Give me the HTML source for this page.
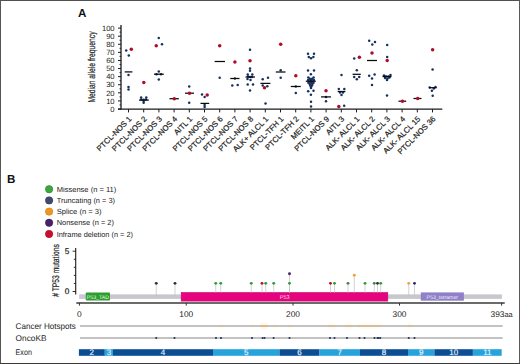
<!DOCTYPE html>
<html><head><meta charset="utf-8"><style>
html,body{margin:0;padding:0;background:#fff;}
svg{display:block;}
text{font-family:"Liberation Sans", sans-serif;text-rendering:geometricPrecision;}
.k{stroke:#222;stroke-width:0.2px;}
</style></head><body>
<svg width="520" height="364" viewBox="0 0 520 364" font-family='"Liberation Sans", sans-serif'>
<rect width="520" height="364" fill="#fff"/>
<text x="78.1" y="17.1" font-size="11.6" font-weight="bold" fill="#111">A</text>
<line x1="121" y1="25" x2="121" y2="109.6" stroke="#1a1a1a" stroke-width="1.3"/>
<line x1="118" y1="109.00" x2="121" y2="109.00" stroke="#1a1a1a" stroke-width="1"/>
<text x="114.6" y="111.70" font-size="7.6" text-anchor="end" fill="#222">0</text>
<line x1="118" y1="100.91" x2="121" y2="100.91" stroke="#1a1a1a" stroke-width="1"/>
<text x="114.6" y="103.61" font-size="7.6" text-anchor="end" fill="#222">10</text>
<line x1="118" y1="92.82" x2="121" y2="92.82" stroke="#1a1a1a" stroke-width="1"/>
<text x="114.6" y="95.52" font-size="7.6" text-anchor="end" fill="#222">20</text>
<line x1="118" y1="84.73" x2="121" y2="84.73" stroke="#1a1a1a" stroke-width="1"/>
<text x="114.6" y="87.43" font-size="7.6" text-anchor="end" fill="#222">30</text>
<line x1="118" y1="76.64" x2="121" y2="76.64" stroke="#1a1a1a" stroke-width="1"/>
<text x="114.6" y="79.34" font-size="7.6" text-anchor="end" fill="#222">40</text>
<line x1="118" y1="68.55" x2="121" y2="68.55" stroke="#1a1a1a" stroke-width="1"/>
<text x="114.6" y="71.25" font-size="7.6" text-anchor="end" fill="#222">50</text>
<line x1="118" y1="60.46" x2="121" y2="60.46" stroke="#1a1a1a" stroke-width="1"/>
<text x="114.6" y="63.16" font-size="7.6" text-anchor="end" fill="#222">60</text>
<line x1="118" y1="52.37" x2="121" y2="52.37" stroke="#1a1a1a" stroke-width="1"/>
<text x="114.6" y="55.07" font-size="7.6" text-anchor="end" fill="#222">70</text>
<line x1="118" y1="44.28" x2="121" y2="44.28" stroke="#1a1a1a" stroke-width="1"/>
<text x="114.6" y="46.98" font-size="7.6" text-anchor="end" fill="#222">80</text>
<line x1="118" y1="36.19" x2="121" y2="36.19" stroke="#1a1a1a" stroke-width="1"/>
<text x="114.6" y="38.89" font-size="7.6" text-anchor="end" fill="#222">90</text>
<line x1="118" y1="28.10" x2="121" y2="28.10" stroke="#1a1a1a" stroke-width="1"/>
<text x="114.6" y="30.80" font-size="7.6" text-anchor="end" fill="#222">100</text>
<line x1="119.5" y1="104.95" x2="121" y2="104.95" stroke="#1a1a1a" stroke-width="0.9"/>
<line x1="119.5" y1="96.86" x2="121" y2="96.86" stroke="#1a1a1a" stroke-width="0.9"/>
<line x1="119.5" y1="88.78" x2="121" y2="88.78" stroke="#1a1a1a" stroke-width="0.9"/>
<line x1="119.5" y1="80.69" x2="121" y2="80.69" stroke="#1a1a1a" stroke-width="0.9"/>
<line x1="119.5" y1="72.59" x2="121" y2="72.59" stroke="#1a1a1a" stroke-width="0.9"/>
<line x1="119.5" y1="64.50" x2="121" y2="64.50" stroke="#1a1a1a" stroke-width="0.9"/>
<line x1="119.5" y1="56.41" x2="121" y2="56.41" stroke="#1a1a1a" stroke-width="0.9"/>
<line x1="119.5" y1="48.32" x2="121" y2="48.32" stroke="#1a1a1a" stroke-width="0.9"/>
<line x1="119.5" y1="40.23" x2="121" y2="40.23" stroke="#1a1a1a" stroke-width="0.9"/>
<line x1="119.5" y1="32.14" x2="121" y2="32.14" stroke="#1a1a1a" stroke-width="0.9"/>
<text transform="translate(95.1 67.05) rotate(-90)" font-size="9.9" text-anchor="middle" textLength="71.1" lengthAdjust="spacingAndGlyphs" fill="#222" class="k">Median allele frequency</text>
<line x1="118" y1="109.2" x2="442.3" y2="109.2" stroke="#1a1a1a" stroke-width="1.3"/>
<line x1="128.50" y1="109.2" x2="128.50" y2="112.4" stroke="#1a1a1a" stroke-width="1"/>
<text transform="translate(132.10 119.5) rotate(-45)" font-size="7.75" text-anchor="end" fill="#222" class="k">PTCL-NOS 1</text>
<line x1="143.70" y1="109.2" x2="143.70" y2="112.4" stroke="#1a1a1a" stroke-width="1"/>
<text transform="translate(147.30 119.5) rotate(-45)" font-size="7.75" text-anchor="end" fill="#222" class="k">PTCL-NOS 2</text>
<line x1="158.90" y1="109.2" x2="158.90" y2="112.4" stroke="#1a1a1a" stroke-width="1"/>
<text transform="translate(162.50 119.5) rotate(-45)" font-size="7.75" text-anchor="end" fill="#222" class="k">PTCL-NOS 3</text>
<line x1="174.10" y1="109.2" x2="174.10" y2="112.4" stroke="#1a1a1a" stroke-width="1"/>
<text transform="translate(177.70 119.5) rotate(-45)" font-size="7.75" text-anchor="end" fill="#222" class="k">PTCL-NOS 4</text>
<line x1="189.30" y1="109.2" x2="189.30" y2="112.4" stroke="#1a1a1a" stroke-width="1"/>
<text transform="translate(192.90 119.5) rotate(-45)" font-size="7.75" text-anchor="end" fill="#222" class="k">AITL 1</text>
<line x1="204.50" y1="109.2" x2="204.50" y2="112.4" stroke="#1a1a1a" stroke-width="1"/>
<text transform="translate(208.10 119.5) rotate(-45)" font-size="7.75" text-anchor="end" fill="#222" class="k">PTCL-NOS 5</text>
<line x1="219.70" y1="109.2" x2="219.70" y2="112.4" stroke="#1a1a1a" stroke-width="1"/>
<text transform="translate(223.30 119.5) rotate(-45)" font-size="7.75" text-anchor="end" fill="#222" class="k">PTCL-NOS 6</text>
<line x1="234.90" y1="109.2" x2="234.90" y2="112.4" stroke="#1a1a1a" stroke-width="1"/>
<text transform="translate(238.50 119.5) rotate(-45)" font-size="7.75" text-anchor="end" fill="#222" class="k">PTCL-NOS 7</text>
<line x1="250.10" y1="109.2" x2="250.10" y2="112.4" stroke="#1a1a1a" stroke-width="1"/>
<text transform="translate(253.70 119.5) rotate(-45)" font-size="7.75" text-anchor="end" fill="#222" class="k">PTCL-NOS 8</text>
<line x1="265.30" y1="109.2" x2="265.30" y2="112.4" stroke="#1a1a1a" stroke-width="1"/>
<text transform="translate(268.90 119.5) rotate(-45)" font-size="7.75" text-anchor="end" fill="#222" class="k">ALK+ ALCL 1</text>
<line x1="280.50" y1="109.2" x2="280.50" y2="112.4" stroke="#1a1a1a" stroke-width="1"/>
<text transform="translate(284.10 119.5) rotate(-45)" font-size="7.75" text-anchor="end" fill="#222" class="k">PTCL-TFH 1</text>
<line x1="295.70" y1="109.2" x2="295.70" y2="112.4" stroke="#1a1a1a" stroke-width="1"/>
<text transform="translate(299.30 119.5) rotate(-45)" font-size="7.75" text-anchor="end" fill="#222" class="k">PTCL-TFH 2</text>
<line x1="310.90" y1="109.2" x2="310.90" y2="112.4" stroke="#1a1a1a" stroke-width="1"/>
<text transform="translate(314.50 119.5) rotate(-45)" font-size="7.75" text-anchor="end" fill="#222" class="k">MEITL 1</text>
<line x1="326.10" y1="109.2" x2="326.10" y2="112.4" stroke="#1a1a1a" stroke-width="1"/>
<text transform="translate(329.70 119.5) rotate(-45)" font-size="7.75" text-anchor="end" fill="#222" class="k">PTCL-NOS 9</text>
<line x1="341.30" y1="109.2" x2="341.30" y2="112.4" stroke="#1a1a1a" stroke-width="1"/>
<text transform="translate(344.90 119.5) rotate(-45)" font-size="7.75" text-anchor="end" fill="#222" class="k">AITL 3</text>
<line x1="356.50" y1="109.2" x2="356.50" y2="112.4" stroke="#1a1a1a" stroke-width="1"/>
<text transform="translate(360.10 119.5) rotate(-45)" font-size="7.75" text-anchor="end" fill="#222" class="k">ALK- ALCL 1</text>
<line x1="371.70" y1="109.2" x2="371.70" y2="112.4" stroke="#1a1a1a" stroke-width="1"/>
<text transform="translate(375.30 119.5) rotate(-45)" font-size="7.75" text-anchor="end" fill="#222" class="k">ALK- ALCL 2</text>
<line x1="386.90" y1="109.2" x2="386.90" y2="112.4" stroke="#1a1a1a" stroke-width="1"/>
<text transform="translate(390.50 119.5) rotate(-45)" font-size="7.75" text-anchor="end" fill="#222" class="k">ALK- ALCL 3</text>
<line x1="402.10" y1="109.2" x2="402.10" y2="112.4" stroke="#1a1a1a" stroke-width="1"/>
<text transform="translate(405.70 119.5) rotate(-45)" font-size="7.75" text-anchor="end" fill="#222" class="k">ALK- ALCL 4</text>
<line x1="417.30" y1="109.2" x2="417.30" y2="112.4" stroke="#1a1a1a" stroke-width="1"/>
<text transform="translate(420.90 119.5) rotate(-45)" font-size="7.75" text-anchor="end" fill="#222" class="k">ALK- ALCL 15</text>
<line x1="432.50" y1="109.2" x2="432.50" y2="112.4" stroke="#1a1a1a" stroke-width="1"/>
<text transform="translate(436.10 119.5) rotate(-45)" font-size="7.75" text-anchor="end" fill="#222" class="k">PTCL-NOS 36</text>
<circle cx="126.2" cy="50.6" r="1.25" fill="#163060"/>
<circle cx="128.8" cy="55.6" r="1.25" fill="#163060"/>
<circle cx="128.5" cy="75" r="1.25" fill="#163060"/>
<circle cx="128.5" cy="87" r="1.25" fill="#163060"/>
<circle cx="128.5" cy="89.6" r="1.25" fill="#163060"/>
<circle cx="141.1" cy="97.5" r="1.25" fill="#163060"/>
<circle cx="146.25" cy="97.5" r="1.25" fill="#163060"/>
<circle cx="141.3" cy="99.5" r="1.25" fill="#163060"/>
<circle cx="146" cy="99.5" r="1.25" fill="#163060"/>
<circle cx="143.65" cy="101" r="1.25" fill="#163060"/>
<circle cx="143.65" cy="102.7" r="1.25" fill="#163060"/>
<circle cx="143.6" cy="99.8" r="1.25" fill="#163060"/>
<circle cx="158.75" cy="38" r="1.25" fill="#163060"/>
<circle cx="162" cy="44.25" r="1.25" fill="#163060"/>
<circle cx="158.8" cy="71.6" r="1.25" fill="#163060"/>
<circle cx="156.5" cy="74.2" r="1.25" fill="#163060"/>
<circle cx="161" cy="74.2" r="1.25" fill="#163060"/>
<circle cx="158.8" cy="79.6" r="1.25" fill="#163060"/>
<circle cx="189.2" cy="86.5" r="1.25" fill="#163060"/>
<circle cx="189.2" cy="102.7" r="1.25" fill="#163060"/>
<circle cx="202" cy="94.6" r="1.25" fill="#163060"/>
<circle cx="204.6" cy="96.9" r="1.25" fill="#163060"/>
<circle cx="204.6" cy="105" r="1.25" fill="#163060"/>
<circle cx="204.6" cy="107" r="1.25" fill="#163060"/>
<circle cx="219.7" cy="77.7" r="1.25" fill="#163060"/>
<circle cx="234.9" cy="78.5" r="1.25" fill="#163060"/>
<circle cx="232.3" cy="85.4" r="1.25" fill="#163060"/>
<circle cx="237.7" cy="84.9" r="1.25" fill="#163060"/>
<circle cx="250" cy="49.7" r="1.25" fill="#163060"/>
<circle cx="250" cy="68.5" r="1.25" fill="#163060"/>
<circle cx="250" cy="70.8" r="1.25" fill="#163060"/>
<circle cx="247.7" cy="74.6" r="1.25" fill="#163060"/>
<circle cx="252.3" cy="74.6" r="1.25" fill="#163060"/>
<circle cx="248" cy="76.5" r="1.25" fill="#163060"/>
<circle cx="250" cy="77" r="1.25" fill="#163060"/>
<circle cx="252" cy="77" r="1.25" fill="#163060"/>
<circle cx="247.5" cy="79" r="1.25" fill="#163060"/>
<circle cx="250.5" cy="80" r="1.25" fill="#163060"/>
<circle cx="247.7" cy="84.6" r="1.25" fill="#163060"/>
<circle cx="253" cy="84.6" r="1.25" fill="#163060"/>
<circle cx="250" cy="90.5" r="1.25" fill="#163060"/>
<circle cx="262.7" cy="79.2" r="1.25" fill="#163060"/>
<circle cx="268" cy="77.7" r="1.25" fill="#163060"/>
<circle cx="262.7" cy="85.4" r="1.25" fill="#163060"/>
<circle cx="267.3" cy="86.2" r="1.25" fill="#163060"/>
<circle cx="265.5" cy="103.5" r="1.25" fill="#163060"/>
<circle cx="280.7" cy="70.3" r="1.25" fill="#163060"/>
<circle cx="280.7" cy="77.7" r="1.25" fill="#163060"/>
<circle cx="295.8" cy="86.5" r="1.25" fill="#163060"/>
<circle cx="295.8" cy="93.1" r="1.25" fill="#163060"/>
<circle cx="308" cy="53.8" r="1.25" fill="#163060"/>
<circle cx="314" cy="53.8" r="1.25" fill="#163060"/>
<circle cx="308.8" cy="56.9" r="1.25" fill="#163060"/>
<circle cx="311" cy="58.3" r="1.25" fill="#163060"/>
<circle cx="313.4" cy="56.9" r="1.25" fill="#163060"/>
<circle cx="308" cy="70.5" r="1.25" fill="#163060"/>
<circle cx="314" cy="70.5" r="1.25" fill="#163060"/>
<circle cx="310.9" cy="74.3" r="1.25" fill="#163060"/>
<circle cx="308.3" cy="77.6" r="1.25" fill="#163060"/>
<circle cx="313.6" cy="77.6" r="1.25" fill="#163060"/>
<circle cx="309.8" cy="78.8" r="1.25" fill="#163060"/>
<circle cx="312.2" cy="78.8" r="1.25" fill="#163060"/>
<circle cx="308.2" cy="80.1" r="1.25" fill="#163060"/>
<circle cx="311" cy="80.1" r="1.25" fill="#163060"/>
<circle cx="313.8" cy="80.1" r="1.25" fill="#163060"/>
<circle cx="309.6" cy="81.4" r="1.25" fill="#163060"/>
<circle cx="312.4" cy="81.4" r="1.25" fill="#163060"/>
<circle cx="308.4" cy="82.7" r="1.25" fill="#163060"/>
<circle cx="311" cy="82.7" r="1.25" fill="#163060"/>
<circle cx="313.5" cy="82.7" r="1.25" fill="#163060"/>
<circle cx="309.7" cy="84.1" r="1.25" fill="#163060"/>
<circle cx="312.3" cy="84.1" r="1.25" fill="#163060"/>
<circle cx="310.2" cy="85.5" r="1.25" fill="#163060"/>
<circle cx="312" cy="85.5" r="1.25" fill="#163060"/>
<circle cx="311" cy="86.9" r="1.25" fill="#163060"/>
<circle cx="311" cy="88.1" r="1.25" fill="#163060"/>
<circle cx="308.2" cy="91.2" r="1.25" fill="#163060"/>
<circle cx="313.5" cy="90.8" r="1.25" fill="#163060"/>
<circle cx="310.9" cy="94.7" r="1.25" fill="#163060"/>
<circle cx="311" cy="101.8" r="1.25" fill="#163060"/>
<circle cx="311" cy="106.5" r="1.25" fill="#163060"/>
<circle cx="326" cy="96.9" r="1.25" fill="#163060"/>
<circle cx="326" cy="101.2" r="1.25" fill="#163060"/>
<circle cx="341.5" cy="74.9" r="1.25" fill="#163060"/>
<circle cx="338.8" cy="88.9" r="1.25" fill="#163060"/>
<circle cx="344.3" cy="88.9" r="1.25" fill="#163060"/>
<circle cx="340" cy="92.6" r="1.25" fill="#163060"/>
<circle cx="343" cy="92.6" r="1.25" fill="#163060"/>
<circle cx="341.5" cy="95.1" r="1.25" fill="#163060"/>
<circle cx="344.2" cy="105.8" r="1.25" fill="#163060"/>
<circle cx="354.2" cy="58.6" r="1.25" fill="#163060"/>
<circle cx="356.8" cy="70.3" r="1.25" fill="#163060"/>
<circle cx="354.2" cy="77" r="1.25" fill="#163060"/>
<circle cx="359.2" cy="77" r="1.25" fill="#163060"/>
<circle cx="356.8" cy="79.2" r="1.25" fill="#163060"/>
<circle cx="369.2" cy="40.8" r="1.25" fill="#163060"/>
<circle cx="375" cy="42" r="1.25" fill="#163060"/>
<circle cx="372.3" cy="44.6" r="1.25" fill="#163060"/>
<circle cx="369.2" cy="75.7" r="1.25" fill="#163060"/>
<circle cx="374.6" cy="74.6" r="1.25" fill="#163060"/>
<circle cx="372" cy="78.5" r="1.25" fill="#163060"/>
<circle cx="372" cy="84.9" r="1.25" fill="#163060"/>
<circle cx="387.2" cy="45" r="1.25" fill="#163060"/>
<circle cx="387.2" cy="57" r="1.25" fill="#163060"/>
<circle cx="384" cy="75.5" r="1.25" fill="#163060"/>
<circle cx="386" cy="76.5" r="1.25" fill="#163060"/>
<circle cx="388.5" cy="76.5" r="1.25" fill="#163060"/>
<circle cx="390.5" cy="75" r="1.25" fill="#163060"/>
<circle cx="385" cy="78" r="1.25" fill="#163060"/>
<circle cx="387.5" cy="78.5" r="1.25" fill="#163060"/>
<circle cx="389.5" cy="77.5" r="1.25" fill="#163060"/>
<circle cx="387" cy="80" r="1.25" fill="#163060"/>
<circle cx="387" cy="95.4" r="1.25" fill="#163060"/>
<circle cx="432.6" cy="69.5" r="1.25" fill="#163060"/>
<circle cx="429.7" cy="87.4" r="1.25" fill="#163060"/>
<circle cx="435.5" cy="87.1" r="1.25" fill="#163060"/>
<circle cx="433.8" cy="88.4" r="1.25" fill="#163060"/>
<circle cx="431.9" cy="90.7" r="1.25" fill="#163060"/>
<circle cx="432.7" cy="95.7" r="1.25" fill="#163060"/>
<line x1="124.7" y1="71.9" x2="132.4" y2="71.9" stroke="#0a0a0a" stroke-width="1.25"/>
<line x1="139.0" y1="100.1" x2="148.8" y2="100.1" stroke="#0a0a0a" stroke-width="1.25"/>
<line x1="154" y1="74.2" x2="163.8" y2="74.2" stroke="#0a0a0a" stroke-width="1.25"/>
<line x1="169.5" y1="98.7" x2="178.8" y2="98.7" stroke="#0a0a0a" stroke-width="1.25"/>
<line x1="185" y1="93.2" x2="194" y2="93.2" stroke="#0a0a0a" stroke-width="1.25"/>
<line x1="200.5" y1="103.4" x2="209.2" y2="103.4" stroke="#0a0a0a" stroke-width="1.25"/>
<line x1="214.6" y1="61.5" x2="225" y2="61.5" stroke="#0a0a0a" stroke-width="1.25"/>
<line x1="230.3" y1="78.5" x2="239.5" y2="78.5" stroke="#0a0a0a" stroke-width="1.25"/>
<line x1="245.5" y1="77" x2="255" y2="77" stroke="#0a0a0a" stroke-width="1.25"/>
<line x1="260.4" y1="83.4" x2="270.4" y2="83.4" stroke="#0a0a0a" stroke-width="1.25"/>
<line x1="275.8" y1="72" x2="285.5" y2="72" stroke="#0a0a0a" stroke-width="1.25"/>
<line x1="290.8" y1="86.5" x2="300.8" y2="86.5" stroke="#0a0a0a" stroke-width="1.25"/>
<line x1="305.8" y1="81.2" x2="315.8" y2="81.2" stroke="#0a0a0a" stroke-width="1.25"/>
<line x1="321" y1="96.9" x2="331" y2="96.9" stroke="#0a0a0a" stroke-width="1.25"/>
<line x1="337.7" y1="91.5" x2="345.4" y2="91.5" stroke="#0a0a0a" stroke-width="1.25"/>
<line x1="352.6" y1="74.3" x2="360.8" y2="74.3" stroke="#0a0a0a" stroke-width="1.25"/>
<line x1="367" y1="60.5" x2="377" y2="60.5" stroke="#0a0a0a" stroke-width="1.25"/>
<line x1="382.5" y1="76.5" x2="391.5" y2="76.5" stroke="#0a0a0a" stroke-width="1.25"/>
<line x1="398.5" y1="101.2" x2="406.2" y2="101.2" stroke="#0a0a0a" stroke-width="1.25"/>
<line x1="413.5" y1="98.5" x2="421.5" y2="98.5" stroke="#0a0a0a" stroke-width="1.25"/>
<line x1="429" y1="87.7" x2="436.6" y2="87.7" stroke="#0a0a0a" stroke-width="1.25"/>
<circle cx="131.3" cy="49.3" r="1.75" fill="#ac0d2b"/>
<circle cx="143.8" cy="82.4" r="1.75" fill="#ac0d2b"/>
<circle cx="156.25" cy="45.75" r="1.75" fill="#ac0d2b"/>
<circle cx="174.3" cy="98.7" r="1.75" fill="#ac0d2b"/>
<circle cx="189.5" cy="93.2" r="1.75" fill="#ac0d2b"/>
<circle cx="207.2" cy="95.1" r="1.75" fill="#ac0d2b"/>
<circle cx="219.7" cy="45.7" r="1.75" fill="#ac0d2b"/>
<circle cx="234.9" cy="62" r="1.75" fill="#ac0d2b"/>
<circle cx="250" cy="60.8" r="1.75" fill="#ac0d2b"/>
<circle cx="264.5" cy="87.7" r="1.75" fill="#ac0d2b"/>
<circle cx="280.7" cy="44.2" r="1.75" fill="#ac0d2b"/>
<circle cx="295.8" cy="75.8" r="1.75" fill="#ac0d2b"/>
<circle cx="326" cy="90.8" r="1.75" fill="#ac0d2b"/>
<circle cx="338.8" cy="106.6" r="1.75" fill="#ac0d2b"/>
<circle cx="359.4" cy="57.2" r="1.75" fill="#ac0d2b"/>
<circle cx="372" cy="53" r="1.75" fill="#ac0d2b"/>
<circle cx="387.2" cy="60.5" r="1.75" fill="#ac0d2b"/>
<circle cx="402.5" cy="101.2" r="1.75" fill="#ac0d2b"/>
<circle cx="417.7" cy="98.5" r="1.75" fill="#ac0d2b"/>
<circle cx="432.6" cy="49.7" r="1.75" fill="#ac0d2b"/>
<text x="7" y="183.2" font-size="11.6" font-weight="bold" fill="#111">B</text>
<circle cx="49.1" cy="189.20" r="3.7" fill="#3aa63c" stroke="#3aa63c" stroke-width="0.6" stroke-opacity="0.9" style="filter:brightness(0.85)"/>
<circle cx="49.1" cy="189.20" r="3.3" fill="#3aa63c"/>
<text x="56.7" y="191.80" font-size="7.4" textLength="59.6" lengthAdjust="spacingAndGlyphs" fill="#222">Missense (n = 11)</text>
<circle cx="49.1" cy="200.40" r="3.7" fill="#3e4a6e" stroke="#3e4a6e" stroke-width="0.6" stroke-opacity="0.9" style="filter:brightness(0.85)"/>
<circle cx="49.1" cy="200.40" r="3.3" fill="#3e4a6e"/>
<text x="56.7" y="203.00" font-size="7.4" textLength="58.3" lengthAdjust="spacingAndGlyphs" fill="#222">Truncating (n = 3)</text>
<circle cx="49.1" cy="211.60" r="3.7" fill="#f0961e" stroke="#f0961e" stroke-width="0.6" stroke-opacity="0.9" style="filter:brightness(0.85)"/>
<circle cx="49.1" cy="211.60" r="3.3" fill="#f0961e"/>
<text x="56.7" y="214.20" font-size="7.4" textLength="44.8" lengthAdjust="spacingAndGlyphs" fill="#222">Splice (n = 3)</text>
<circle cx="49.1" cy="222.80" r="3.7" fill="#4a1f6c" stroke="#4a1f6c" stroke-width="0.6" stroke-opacity="0.9" style="filter:brightness(0.85)"/>
<circle cx="49.1" cy="222.80" r="3.3" fill="#4a1f6c"/>
<text x="56.7" y="225.40" font-size="7.4" textLength="57.3" lengthAdjust="spacingAndGlyphs" fill="#222">Nonsense (n = 2)</text>
<circle cx="49.1" cy="234.00" r="3.7" fill="#c8102e" stroke="#c8102e" stroke-width="0.6" stroke-opacity="0.9" style="filter:brightness(0.85)"/>
<circle cx="49.1" cy="234.00" r="3.3" fill="#c8102e"/>
<text x="56.7" y="236.60" font-size="7.4" textLength="76.3" lengthAdjust="spacingAndGlyphs" fill="#222">Inframe deletion (n = 2)</text>
<line x1="75.7" y1="248" x2="75.7" y2="294.6" stroke="#1a1a1a" stroke-width="1.1"/>
<line x1="72.6" y1="291.50" x2="75.7" y2="291.50" stroke="#1a1a1a" stroke-width="0.9"/>
<line x1="73.8" y1="283.44" x2="75.7" y2="283.44" stroke="#1a1a1a" stroke-width="0.9"/>
<line x1="73.8" y1="275.38" x2="75.7" y2="275.38" stroke="#1a1a1a" stroke-width="0.9"/>
<line x1="73.8" y1="267.32" x2="75.7" y2="267.32" stroke="#1a1a1a" stroke-width="0.9"/>
<line x1="73.8" y1="259.26" x2="75.7" y2="259.26" stroke="#1a1a1a" stroke-width="0.9"/>
<line x1="72.6" y1="251.20" x2="75.7" y2="251.20" stroke="#1a1a1a" stroke-width="0.9"/>
<text x="69.3" y="253.6" font-size="8.2" text-anchor="end" fill="#222" class="k">5</text>
<text x="69.3" y="294.2" font-size="8.2" text-anchor="end" fill="#222" class="k">0</text>
<text transform="translate(58.9 270.5) rotate(-90)" font-size="9.6" text-anchor="middle" textLength="52.7" lengthAdjust="spacingAndGlyphs" fill="#222" class="k"># TP53 mutations</text>
<rect x="79.4" y="294.4" width="422.5" height="4.5" fill="#c7c7ce"/>
<rect x="79.4" y="294.6" width="3.6" height="4.2" fill="#d4c2e0"/>
<rect x="85.8" y="292.5" width="24.2" height="8.1" rx="0.8" fill="#2e9e2e"/>
<text x="97.9" y="298.6" font-size="5.2" text-anchor="middle" fill="#e8f5e8">P53_TAD</text>
<rect x="181.2" y="292.5" width="206.6" height="8.6" fill="#e5047e" stroke="#cc006f" stroke-width="0.6"/>
<text x="284.7" y="298.7" font-size="5.6" text-anchor="middle" fill="#ffd0ea">P53</text>
<rect x="420.8" y="292.4" width="43.1" height="8.3" fill="#8f80c8"/>
<text x="442.3" y="298.5" font-size="5.2" text-anchor="middle" fill="#eeeaf8">P53_tetramer</text>
<line x1="156.25" y1="283.44" x2="156.25" y2="295.5" stroke="#c0c0c0" stroke-width="0.7"/>
<line x1="175" y1="283.44" x2="175" y2="295.5" stroke="#c0c0c0" stroke-width="0.7"/>
<line x1="215.75" y1="283.44" x2="215.75" y2="292.6" stroke="#c0c0c0" stroke-width="0.7"/>
<line x1="220.75" y1="283.44" x2="220.75" y2="292.6" stroke="#c0c0c0" stroke-width="0.7"/>
<line x1="251.25" y1="283.44" x2="251.25" y2="292.6" stroke="#c0c0c0" stroke-width="0.7"/>
<line x1="262" y1="283.44" x2="262" y2="292.6" stroke="#c0c0c0" stroke-width="0.7"/>
<line x1="265.75" y1="283.44" x2="265.75" y2="292.6" stroke="#c0c0c0" stroke-width="0.7"/>
<line x1="273.75" y1="283.44" x2="273.75" y2="292.6" stroke="#c0c0c0" stroke-width="0.7"/>
<line x1="289.5" y1="283.44" x2="289.5" y2="292.6" stroke="#c0c0c0" stroke-width="0.7"/>
<line x1="330.5" y1="283.44" x2="330.5" y2="292.6" stroke="#c0c0c0" stroke-width="0.7"/>
<line x1="334.5" y1="283.44" x2="334.5" y2="292.6" stroke="#c0c0c0" stroke-width="0.7"/>
<line x1="348" y1="283.44" x2="348" y2="292.6" stroke="#c0c0c0" stroke-width="0.7"/>
<line x1="354.25" y1="275.38" x2="354.25" y2="292.6" stroke="#c0c0c0" stroke-width="0.7"/>
<line x1="365" y1="283.44" x2="365" y2="292.6" stroke="#c0c0c0" stroke-width="0.7"/>
<line x1="374.25" y1="283.44" x2="374.25" y2="292.6" stroke="#c0c0c0" stroke-width="0.7"/>
<line x1="377.5" y1="283.44" x2="377.5" y2="292.6" stroke="#c0c0c0" stroke-width="0.7"/>
<line x1="380.75" y1="283.44" x2="380.75" y2="292.6" stroke="#c0c0c0" stroke-width="0.7"/>
<line x1="408.75" y1="283.44" x2="408.75" y2="295.5" stroke="#c0c0c0" stroke-width="0.7"/>
<line x1="414.5" y1="283.44" x2="414.5" y2="295.5" stroke="#c0c0c0" stroke-width="0.7"/>
<line x1="289.5" y1="273.77" x2="289.5" y2="292.6" stroke="#c0c0c0" stroke-width="0.7"/>
<circle cx="156.25" cy="283.34" r="1.45" fill="#2a2f3a"/>
<circle cx="175" cy="283.34" r="1.45" fill="#2a2f3a"/>
<circle cx="215.75" cy="283.34" r="1.45" fill="#2f9a3a"/>
<circle cx="220.75" cy="283.34" r="1.45" fill="#2f9a3a"/>
<circle cx="251.25" cy="283.34" r="1.45" fill="#2f9a3a"/>
<circle cx="262" cy="283.34" r="1.45" fill="#b8102e"/>
<circle cx="265.75" cy="283.34" r="1.45" fill="#2f9a3a"/>
<circle cx="273.75" cy="283.34" r="1.45" fill="#2f9a3a"/>
<circle cx="289.5" cy="283.34" r="1.45" fill="#2f9a3a"/>
<circle cx="330.5" cy="283.34" r="1.45" fill="#b8102e"/>
<circle cx="334.5" cy="283.34" r="1.45" fill="#2f9a3a"/>
<circle cx="348" cy="283.34" r="1.45" fill="#4f7a4f"/>
<circle cx="354.25" cy="275.28" r="1.45" fill="#f0a040"/>
<circle cx="365" cy="283.34" r="1.45" fill="#2f9a3a"/>
<circle cx="374.25" cy="283.34" r="1.45" fill="#4f7a4f"/>
<circle cx="377.5" cy="283.34" r="1.45" fill="#2a2f3a"/>
<circle cx="380.75" cy="283.34" r="1.45" fill="#2f9a3a"/>
<circle cx="408.75" cy="283.34" r="1.45" fill="#f0a040"/>
<circle cx="414.5" cy="283.34" r="1.45" fill="#2a2a66"/>
<circle cx="289.5" cy="273.75" r="1.45" fill="#4b1f6c"/>
<line x1="76.3" y1="303.1" x2="504.7" y2="303.1" stroke="#3a3a3a" stroke-width="1.5"/>
<line x1="79.4" y1="303" x2="79.4" y2="305.6" stroke="#333" stroke-width="1"/>
<text x="79.4" y="316.5" font-size="8.4" text-anchor="middle" fill="#222">0</text>
<line x1="186.25" y1="303" x2="186.25" y2="305.6" stroke="#333" stroke-width="1"/>
<text x="186.25" y="316.5" font-size="8.4" text-anchor="middle" fill="#222">100</text>
<line x1="293" y1="303" x2="293" y2="305.6" stroke="#333" stroke-width="1"/>
<text x="293" y="316.5" font-size="8.4" text-anchor="middle" fill="#222">200</text>
<line x1="399.5" y1="303" x2="399.5" y2="305.6" stroke="#333" stroke-width="1"/>
<text x="399.5" y="316.5" font-size="8.4" text-anchor="middle" fill="#222">300</text>
<line x1="501.6" y1="303" x2="501.6" y2="305.6" stroke="#333" stroke-width="1"/>
<text x="490.5" y="316.6" font-size="8.4" fill="#222">393<tspan font-size="7.4">aa</tspan></text>
<text x="15.6" y="328.9" font-size="8.3" textLength="60.3" lengthAdjust="spacingAndGlyphs" fill="#222">Cancer Hotspots</text>
<text x="15.6" y="341.0" font-size="8.3" fill="#222">OncoKB</text>
<text x="15.6" y="355.1" font-size="8.3" textLength="16.3" lengthAdjust="spacingAndGlyphs" fill="#222">Exon</text>
<line x1="80" y1="326" x2="502.7" y2="326" stroke="#858585" stroke-width="1.2"/>
<rect x="219" y="322.6" width="4" height="6.6" fill="#fbe3b8" opacity="0.0875"/>
<line x1="219" y1="326" x2="223" y2="326" stroke="#e8a840" stroke-width="1.5" opacity="0.27999999999999997"/>
<rect x="249.5" y="322.6" width="3.5" height="6.6" fill="#fbe3b8" opacity="0.0875"/>
<line x1="249.5" y1="326" x2="253" y2="326" stroke="#e8a840" stroke-width="1.5" opacity="0.27999999999999997"/>
<rect x="260.5" y="322.6" width="7.0" height="6.6" fill="#fbe3b8" opacity="0.2"/>
<line x1="260.5" y1="326" x2="267.5" y2="326" stroke="#e8a840" stroke-width="1.5" opacity="0.6400000000000001"/>
<rect x="273" y="322.6" width="4" height="6.6" fill="#fbe3b8" opacity="0.0875"/>
<line x1="273" y1="326" x2="277" y2="326" stroke="#e8a840" stroke-width="1.5" opacity="0.27999999999999997"/>
<rect x="288" y="322.6" width="4" height="6.6" fill="#fbe3b8" opacity="0.0875"/>
<line x1="288" y1="326" x2="292" y2="326" stroke="#e8a840" stroke-width="1.5" opacity="0.27999999999999997"/>
<rect x="327.5" y="322.6" width="7.5" height="6.6" fill="#fbe3b8" opacity="0.1125"/>
<line x1="327.5" y1="326" x2="335" y2="326" stroke="#e8a840" stroke-width="1.5" opacity="0.36000000000000004"/>
<rect x="345" y="322.6" width="7.5" height="6.6" fill="#fbe3b8" opacity="0.1125"/>
<line x1="345" y1="326" x2="352.5" y2="326" stroke="#e8a840" stroke-width="1.5" opacity="0.36000000000000004"/>
<rect x="357.5" y="322.6" width="23.5" height="6.6" fill="#fbe3b8" opacity="0.1125"/>
<line x1="357.5" y1="326" x2="381" y2="326" stroke="#e8a840" stroke-width="1.5" opacity="0.36000000000000004"/>
<rect x="407.5" y="322.6" width="5.0" height="6.6" fill="#fbe3b8" opacity="0.1125"/>
<line x1="407.5" y1="326" x2="412.5" y2="326" stroke="#e8a840" stroke-width="1.5" opacity="0.36000000000000004"/>
<line x1="80" y1="338" x2="502.7" y2="338" stroke="#858585" stroke-width="1.1"/>
<circle cx="156.25" cy="338" r="1.05" fill="#1e3560"/>
<circle cx="174.5" cy="338" r="1.05" fill="#1e3560"/>
<circle cx="216" cy="338" r="1.05" fill="#1e3560"/>
<circle cx="221" cy="338" r="1.05" fill="#1e3560"/>
<circle cx="252" cy="338" r="1.05" fill="#1e3560"/>
<circle cx="262.6" cy="338" r="1.05" fill="#1e3560"/>
<circle cx="264.5" cy="338" r="1.05" fill="#1e3560"/>
<circle cx="273.6" cy="338" r="1.05" fill="#1e3560"/>
<circle cx="289.5" cy="338" r="1.05" fill="#1e3560"/>
<circle cx="330" cy="338" r="1.05" fill="#1e3560"/>
<circle cx="334.5" cy="338" r="1.05" fill="#1e3560"/>
<circle cx="347" cy="338" r="1.05" fill="#1e3560"/>
<circle cx="359.5" cy="338" r="1.05" fill="#1e3560"/>
<circle cx="364.5" cy="338" r="1.05" fill="#1e3560"/>
<circle cx="374.5" cy="338" r="1.05" fill="#1e3560"/>
<circle cx="377.5" cy="338" r="1.05" fill="#1e3560"/>
<circle cx="378.6" cy="338" r="1.05" fill="#1e3560"/>
<circle cx="380.3" cy="338" r="1.05" fill="#1e3560"/>
<circle cx="408.75" cy="338" r="1.05" fill="#1e3560"/>
<circle cx="414.5" cy="338" r="1.05" fill="#1e3560"/>
<rect x="78.9" y="349.2" width="25.90" height="6.6" fill="#0c4e93"/>
<text x="91.85" y="355.3" font-size="8" text-anchor="middle" fill="#e6f0fa" stroke="#e6f0fa" stroke-width="0.15">2</text>
<rect x="104.8" y="349.2" width="8.20" height="6.6" fill="#27a3dc"/>
<text x="108.90" y="355.3" font-size="8" text-anchor="middle" fill="#e6f0fa" stroke="#e6f0fa" stroke-width="0.15">3</text>
<rect x="113" y="349.2" width="100.00" height="6.6" fill="#0c4e93"/>
<text x="163.00" y="355.3" font-size="8" text-anchor="middle" fill="#e6f0fa" stroke="#e6f0fa" stroke-width="0.15">4</text>
<rect x="213" y="349.2" width="66.50" height="6.6" fill="#27a3dc"/>
<text x="246.25" y="355.3" font-size="8" text-anchor="middle" fill="#e6f0fa" stroke="#e6f0fa" stroke-width="0.15">5</text>
<rect x="279.5" y="349.2" width="40.00" height="6.6" fill="#0c4e93"/>
<text x="299.50" y="355.3" font-size="8" text-anchor="middle" fill="#e6f0fa" stroke="#e6f0fa" stroke-width="0.15">6</text>
<rect x="319.5" y="349.2" width="40.50" height="6.6" fill="#27a3dc"/>
<text x="339.75" y="355.3" font-size="8" text-anchor="middle" fill="#e6f0fa" stroke="#e6f0fa" stroke-width="0.15">7</text>
<rect x="360" y="349.2" width="48.00" height="6.6" fill="#0c4e93"/>
<text x="384.00" y="355.3" font-size="8" text-anchor="middle" fill="#e6f0fa" stroke="#e6f0fa" stroke-width="0.15">8</text>
<rect x="408" y="349.2" width="26.40" height="6.6" fill="#27a3dc"/>
<text x="421.20" y="355.3" font-size="8" text-anchor="middle" fill="#e6f0fa" stroke="#e6f0fa" stroke-width="0.15">9</text>
<rect x="434.4" y="349.2" width="38.50" height="6.6" fill="#0c4e93"/>
<text x="453.65" y="355.3" font-size="8" text-anchor="middle" fill="#e6f0fa" stroke="#e6f0fa" stroke-width="0.15">10</text>
<rect x="472.9" y="349.2" width="28.80" height="6.6" fill="#27a3dc"/>
<text x="487.30" y="355.3" font-size="8" text-anchor="middle" fill="#e6f0fa" stroke="#e6f0fa" stroke-width="0.15">11</text>
<rect x="0" y="0" width="520" height="1" fill="#505050"/>
<rect x="0" y="0" width="1" height="364" fill="#565656"/>
<rect x="519" y="0" width="1" height="364" fill="#5a5a5a"/>
<rect x="0" y="363" width="520" height="1" fill="#3c3a38"/>
</svg>
</body></html>
